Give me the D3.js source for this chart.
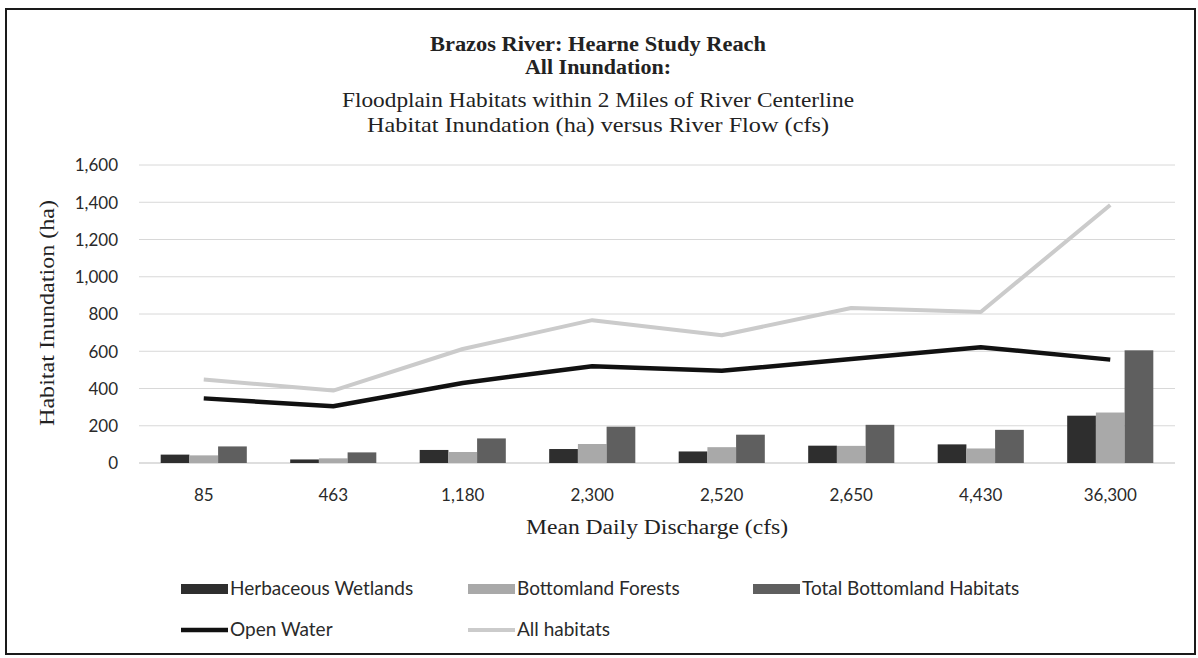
<!DOCTYPE html>
<html>
<head>
<meta charset="utf-8">
<script src="https://cdn.jsdelivr.net/npm/d3@7"></script>
<style>
  body { margin: 0; background: #fff; }
  .serif { font-family: "Liberation Serif", "DejaVu Serif", serif; fill: #222; }
  .sans { font-family: Lato, "Open Sans", sans-serif; fill: #2a2a2a; }
</style>
</head>
<body>
<div id="chart"></div>
<script>
// discharge categories (cfs)
var categories = ['85', '463', '1,180', '2,300', '2,520', '2,650', '4,430', '36,300'];

// bar series (ha)
var herbaceous = [45, 19, 70, 75, 62, 93, 100, 254];
var forests = [41, 25, 59, 102, 85, 92, 78, 271];
var totalBottomland = [89, 57, 132, 195, 152, 205, 178, 605];

// line series (ha)
var openWater = [347, 305, 430, 520, 495, 558, 622, 555];
var allHabitats = [448, 389, 612, 767, 686, 832, 811, 1385];

var yTicks = [0, 200, 400, 600, 800, 1000, 1200, 1400, 1600];

var width = 1198, height = 658;

var svg = d3.select('#chart').append('svg')
	.attr('width', width)
	.attr('height', height);

// frame
svg.append('rect')
	.attr('x', 6).attr('y', 9)
	.attr('width', 1189).attr('height', 645)
	.attr('fill', 'none')
	.attr('stroke', '#1a1a1a')
	.attr('stroke-width', 2);

// titles
var titles = [
	{t: 'Brazos River: Hearne Study Reach', y: 51, bold: true, w: 336, s: 20},
	{t: 'All Inundation:', y: 74, bold: true, w: 146, s: 20},
	{t: 'Floodplain Habitats within 2 Miles of River Centerline', y: 107, bold: false, w: 512, s: 21},
	{t: 'Habitat Inundation (ha) versus River Flow (cfs)', y: 132, bold: false, w: 462, s: 21}
];
svg.selectAll('.title').data(titles).enter().append('text')
	.attr('class', 'title serif')
	.attr('x', 598)
	.attr('y', function(d) { return d.y; })
	.attr('text-anchor', 'middle')
	.attr('font-size', function(d) { return d.s; })
	.attr('font-weight', function(d) { return d.bold ? 'bold' : 'normal'; })
	.attr('textLength', function(d) { return d.w; })
	.attr('lengthAdjust', 'spacingAndGlyphs')
	.text(function(d) { return d.t; });

var x0 = d3.scaleBand()
	.domain(categories)
	.range([139, 1175])
	.paddingInner(0.335)
	.paddingOuter(0.1675);

var series = ['herb', 'forest', 'total'];
var x1 = d3.scaleBand()
	.domain(series)
	.range([0, x0.bandwidth()]);

var y = d3.scaleLinear()
	.domain([0, 1600])
	.range([463, 165]);

// gridlines
svg.append('g').selectAll('line').data(yTicks).enter().append('line')
	.attr('x1', 139).attr('x2', 1175)
	.attr('y1', function(d) { return y(d); })
	.attr('y2', function(d) { return y(d); })
	.attr('stroke', function(d) { return d == 0 ? '#bdbdbd' : '#d8d8d8'; })
	.attr('stroke-width', 1);

// y axis labels
var yAxis = d3.axisLeft(y).tickValues(yTicks).tickSize(0).tickPadding(0)
	.tickFormat(d3.format(','));
var gy = svg.append('g')
	.attr('transform', 'translate(118,0)')
	.call(yAxis);
gy.select('.domain').remove();
gy.selectAll('text')
	.attr('class', 'sans')
	.attr('font-size', 17)
	.attr('dy', '0.34em');

// x axis labels
var xAxis = d3.axisBottom(x0).tickSize(0).tickPadding(0);
var gx = svg.append('g')
	.attr('transform', 'translate(0,489)')
	.call(xAxis);
gx.select('.domain').remove();
gx.selectAll('text')
	.attr('class', 'sans')
	.attr('font-size', 17);

// axis titles
svg.append('text')
	.attr('class', 'serif')
	.attr('transform', 'translate(54,313) rotate(-90)')
	.attr('text-anchor', 'middle')
	.attr('font-size', 20)
	.attr('textLength', 226)
	.attr('lengthAdjust', 'spacingAndGlyphs')
	.text('Habitat Inundation (ha)');

svg.append('text')
	.attr('class', 'serif')
	.attr('x', 657).attr('y', 534)
	.attr('text-anchor', 'middle')
	.attr('font-size', 20)
	.attr('textLength', 262)
	.attr('lengthAdjust', 'spacingAndGlyphs')
	.text('Mean Daily Discharge (cfs)');

// bars
var colors = {herb: '#2e2e2e', forest: '#a9a9a9', total: '#5f5f5f'};
var barData = categories.map(function(c, i) {
	return {cat: c, vals: [
		{k: 'herb', v: herbaceous[i]},
		{k: 'forest', v: forests[i]},
		{k: 'total', v: totalBottomland[i]}
	]};
});

var groups = svg.append('g').selectAll('g').data(barData).enter().append('g')
	.attr('transform', function(d) { return 'translate(' + x0(d.cat) + ',0)'; });

groups.selectAll('rect').data(function(d) { return d.vals; }).enter().append('rect')
	.attr('x', function(d) { return x1(d.k); })
	.attr('width', x1.bandwidth())
	.attr('y', function(d) { return y(d.v); })
	.attr('height', function(d) { return y(0) - y(d.v); })
	.attr('fill', function(d) { return colors[d.k]; });

// lines
var line = d3.line()
	.x(function(d, i) { return x0(categories[i]) + x0.bandwidth() / 2; })
	.y(function(d) { return y(d); });

svg.append('path')
	.datum(allHabitats)
	.attr('d', line)
	.attr('fill', 'none')
	.attr('stroke', '#cbcbcb')
	.attr('stroke-width', 4)
	.attr('stroke-linejoin', 'round');

svg.append('path')
	.datum(openWater)
	.attr('d', line)
	.attr('fill', 'none')
	.attr('stroke', '#111')
	.attr('stroke-width', 4.5)
	.attr('stroke-linejoin', 'round');

// legend
var legend = [
	{label: 'Herbaceous Wetlands', type: 'bar', color: colors.herb, x: 181, y: 589},
	{label: 'Bottomland Forests', type: 'bar', color: colors.forest, x: 468, y: 589},
	{label: 'Total Bottomland Habitats', type: 'bar', color: colors.total, x: 753, y: 589},
	{label: 'Open Water', type: 'line', color: '#111', x: 181, y: 630},
	{label: 'All habitats', type: 'line', color: '#cbcbcb', x: 468, y: 630}
];

var lg = svg.append('g').selectAll('g').data(legend).enter().append('g')
	.attr('transform', function(d) { return 'translate(' + d.x + ',' + d.y + ')'; });

lg.filter(function(d) { return d.type == 'bar'; }).append('rect')
	.attr('x', 0).attr('y', -5)
	.attr('width', 47).attr('height', 10)
	.attr('fill', function(d) { return d.color; });

lg.filter(function(d) { return d.type == 'line'; }).append('line')
	.attr('x1', 0).attr('x2', 47)
	.attr('y1', 0).attr('y2', 0)
	.attr('stroke', function(d) { return d.color; })
	.attr('stroke-width', function(d) { return d.color == '#111' ? 4.5 : 4; });

lg.append('text')
	.attr('class', 'sans')
	.attr('x', 49)
	.attr('y', 0)
	.attr('dy', '0.34em')
	.attr('font-size', 19)
	.text(function(d) { return d.label; });
</script>
</body>
</html>
